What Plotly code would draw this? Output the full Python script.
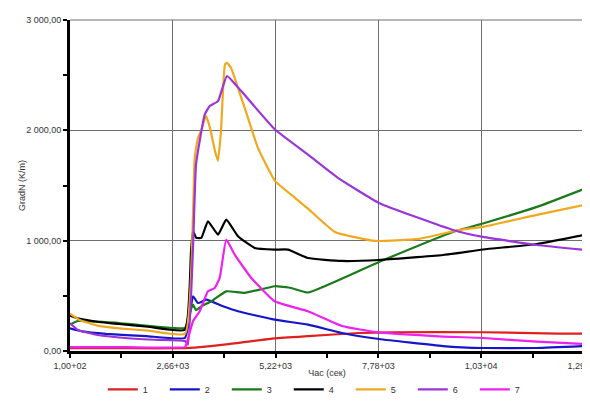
import plotly.graph_objects as go

# ---- data ----
t1 = [100, 1500, 2964, 3200, 3992, 5197, 6026, 7296, 8118, 10384, 12251, 12900]
v1 = [25, 25, 25, 30, 60, 115, 135, 163, 170, 170, 158, 158]

t2 = [100, 400, 1000, 2000, 2964, 3163, 3287, 3495, 3910, 4283, 5197, 6026, 6873, 7794, 9388, 10384, 11728, 12900]
v2 = [205, 178, 155, 135, 120, 496, 435, 465, 405, 360, 284, 239, 163, 109, 45, 27, 27, 45]

t3 = [100, 300, 1320, 2964, 3038, 3163, 3237, 3370, 3619, 3992, 4450, 5197, 5611, 6026, 7794, 9637, 10384, 11728, 12900]
v3 = [239, 272, 254, 209, 299, 420, 370, 405, 451, 541, 526, 587, 571, 530, 807, 1079, 1156, 1306, 1469]

t4 = [100, 325, 822, 1320, 2040, 2964, 3113, 3163, 3245, 3370, 3536, 3785, 3992, 4283, 4699, 5197, 5528, 6026, 6873, 7794, 9388, 10384, 11728, 12900]
v4 = [320, 293, 263, 245, 220, 193, 900, 1086, 1025, 1025, 1176, 1055, 1191, 1040, 934, 919, 919, 843, 816, 825, 870, 920, 970, 1052]

t5 = [100, 325, 822, 1320, 2040, 2964, 3163, 3205, 3287, 3362, 3486, 3586, 3710, 3785, 3860, 3959, 4009, 4109, 4283, 4532, 4781, 5205, 5703, 6026, 6699, 7695, 8790, 9811, 10384, 11728, 12900]
v5 = [338, 284, 227, 205, 185, 157, 1236, 1750, 1932, 1995, 2131, 2022, 1814, 1723, 1995, 2597, 2612, 2567, 2385, 2113, 1841, 1542, 1388, 1290, 1079, 998, 1016, 1098, 1125, 1234, 1324]

t6 = [100, 300, 800, 1400, 2200, 2964, 3038, 3163, 3237, 3330, 3454, 3579, 3785, 4009, 4358, 5205, 6026, 6773, 7794, 9637, 10384, 11728, 12900]
v6 = [254, 190, 145, 120, 102, 90, 57, 934, 1690, 1905, 2143, 2220, 2265, 2492, 2358, 2007, 1780, 1569, 1342, 1097, 1034, 961, 916]

t7 = [100, 1500, 2964, 2996, 3163, 3330, 3536, 3703, 3828, 3992, 4201, 4615, 5197, 6026, 6873, 7794, 9388, 10384, 11728, 12900]
v7 = [35, 35, 35, 57, 269, 360, 541, 571, 662, 1009, 873, 662, 451, 360, 227, 168, 131, 118, 85, 63]

names = ["1", "2", "3", "4", "5", "6", "7"]
colors = ["#e01f1f", "#1616c8", "#1a7a1a", "#000000", "#f0a81e", "#9a35d8", "#ee22ee"]

x_tickvals = [100, 2660, 5220, 7780, 10340, 12900]
x_ticktext = ["1,00+02", "2,66+03", "5,22+03", "7,78+03", "1,03+04", "1,29+04"]
y_tickvals = [0, 1000, 2000, 3000]
y_ticktext = ["0,00", "1 000,00", "2 000,00", "3 000,00"]

series = [(t1, v1), (t2, v2), (t3, v3), (t4, v4), (t5, v5), (t6, v6), (t7, v7)]

fig = go.Figure()
for (tt, vv), nm, col in zip(series, names, colors):
    fig.add_trace(go.Scatter(x=tt, y=vv, mode="lines", name=nm,
                             line=dict(color=col, width=2.2, shape="spline", smoothing=0.4)))

font = dict(family="Liberation Sans, Arial, sans-serif", size=9, color="#333333")

fig.update_layout(
    width=590, height=401,
    margin=dict(l=62, r=14, t=12, b=58, autoexpand=False),
    paper_bgcolor="white", plot_bgcolor="white",
    font=font,
    showlegend=True,
    legend=dict(orientation="h", x=0.486, xanchor="center", y=-0.072, yanchor="top",
                font=dict(size=9, color="#333333"), itemwidth=30,
                entrywidth=17, entrywidthmode="pixels",
                traceorder="normal"),
    xaxis=dict(range=[100, 12900], tickmode="array", tickvals=x_tickvals,
               ticktext=x_ticktext, showgrid=True, gridcolor="#6e6e6e", gridwidth=1,
               showline=True, linecolor="black", linewidth=3,
               ticks="outside", ticklen=4, tickcolor="black", tickwidth=1.5,
               ticklabeloverflow="allow",
               minor=dict(dtick=1280, tick0=100, ticks="outside", ticklen=4,
                          tickcolor="black", showgrid=False),
               zeroline=False, automargin=False,
               title=dict(text="Час (сек)", font=dict(size=9, color="#333333"), standoff=0)),
    yaxis=dict(range=[0, 3000], tickmode="array", tickvals=y_tickvals,
               ticktext=y_ticktext, showgrid=True, gridcolor="#6e6e6e", gridwidth=1,
               showline=True, linecolor="black", linewidth=3,
               ticks="outside", ticklen=4, tickcolor="black", tickwidth=1.5,
               minor=dict(dtick=500, tick0=0, ticks="outside", ticklen=4,
                          tickcolor="black", showgrid=False),
               zeroline=False, automargin=False,
               title=dict(text="GradN (K/m)", font=dict(size=9, color="#333333"), standoff=0)),
    shapes=[
        dict(type="line", xref="paper", yref="paper", x0=0, x1=1, y0=1, y1=1,
             line=dict(color="#6e6e6e", width=1)),
        dict(type="line", xref="paper", yref="paper", x0=1, x1=1, y0=0, y1=1,
             line=dict(color="#6e6e6e", width=1)),
    ],
)

fig.write_html("out.html")
